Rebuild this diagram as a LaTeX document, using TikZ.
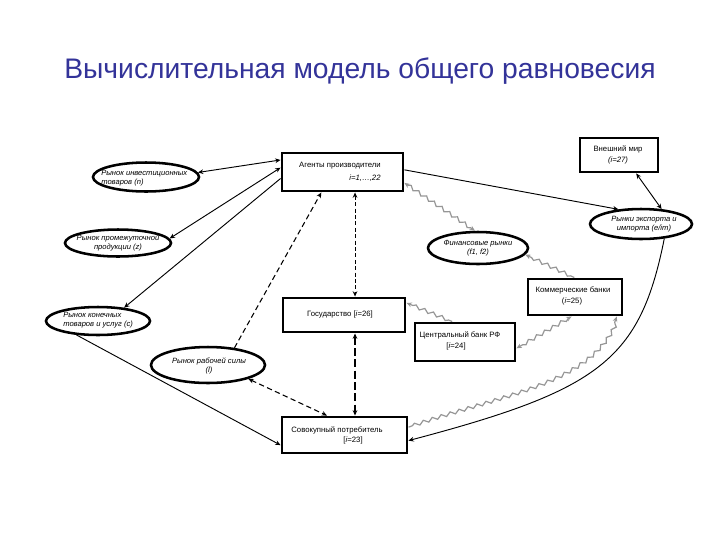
\documentclass[tikz,border=0pt]{standalone}
\usepackage{fontspec}
\setmainfont{Liberation Sans}
\usetikzlibrary{shapes.geometric,arrows.meta,decorations.pathmorphing,calc}
\definecolor{titleblue}{RGB}{51,51,153}
\definecolor{wavegray}{RGB}{150,150,150}
\begin{document}
\begin{tikzpicture}[x=0.75pt,y=-0.75pt,
  >={Stealth[length=4pt,width=3.5pt]},
  box/.style={draw,rectangle,line width=2.2pt,inner sep=0pt},
  ell/.style={draw,ellipse,line width=1.9pt,inner sep=0pt},
  btxt/.style={font=\fontsize{5.8}{6.8}\selectfont,inner sep=0pt},
  bitxt/.style={font=\fontsize{5.8}{6.8}\selectfont\itshape,inner sep=0pt},
  etxt/.style={font=\fontsize{5.7}{6.8}\selectfont\itshape,inner sep=0pt},
  con/.style={line width=0.7pt},
  dsh/.style={line width=0.8pt,dash pattern=on 4pt off 2.5pt},
  dshthin/.style={line width=0.6pt,dash pattern=on 3pt off 1.8pt},
  dshthick/.style={line width=1.3pt,dash pattern=on 6pt off 2.5pt},
  wavy/.style={draw=wavegray,line width=0.9pt,decorate,
     decoration={snake,amplitude=1.3pt,segment length=7pt,pre length=3pt,post length=3pt}}
]
\useasboundingbox (0,0) rectangle (720,540);

\node[font=\fontsize{21.2}{25}\selectfont,text=titleblue,inner sep=0pt] (title) at (360,71)
  {Вычислительная модель общего равновесия};

% boxes
\node[box,minimum width=90.75pt,minimum height=28.5pt] (agents) at (342.5,172) {};
\node[box,minimum width=91.5pt,minimum height=25.5pt] (gov) at (344,315) {};
\node[box,minimum width=75pt,minimum height=28.5pt] (cb) at (465,342) {};
\node[box,minimum width=93.75pt,minimum height=27pt] (cons) at (344.5,435) {};
\node[box,minimum width=70.5pt,minimum height=27pt] (kb) at (575,297) {};
\node[box,minimum width=58.5pt,minimum height=25.5pt] (world) at (619,155) {};

\node[btxt] (tagents) at (340,166) {Агенты производители};
\node[bitxt] (tagents2) at (365,178) {i=1,…,22};
\node[btxt] (tgov) at (340,314) {Государство [\textit{i}=26]};
\node[btxt] (tcb) at (460,335) {Центральный банк РФ};
\node[btxt] (tcb2) at (456,346) {[\textit{i}=24]};
\node[btxt] (tcons) at (337,430) {Совокупный потребитель};
\node[btxt] (tcons2) at (353,440) {[\textit{i}=23]};
\node[btxt] (tkb) at (573,290) {Коммерческие банки};
\node[btxt] (tkb2) at (572,301) {(\textit{i}=25)};
\node[btxt] (tworld) at (618,149) {Внешний мир};
\node[bitxt] (tworld2) at (618,160) {(i=27)};

% ellipses
\node[ell,minimum width=79.5pt,minimum height=21.75pt] (e1) at (146,177) {};
\node[ell,minimum width=79.5pt,minimum height=20.25pt] (e2) at (118,243) {};
\node[ell,minimum width=78pt,minimum height=21pt] (e3) at (98,321) {};
\node[ell,minimum width=85.5pt,minimum height=27pt] (e4) at (208,365) {};
\node[ell,minimum width=75pt,minimum height=24pt] (e5) at (478,248) {};
\node[ell,minimum width=76.5pt,minimum height=22.5pt] (e6) at (641,224) {};

\node[etxt,anchor=west,align=left] (te1) at (101,178) {Рынок инвестиционных\\товаров (n)};
\node[etxt,align=center] (te2) at (118,243) {Рынок промежуточной\\продукции (z)};
\node[etxt,anchor=west,align=left] (te3) at (63,320) {Рынок конечных\\товаров и услуг (c)};
\node[etxt,align=center] (te4) at (209,366) {Рынок рабочей силы\\(l)};
\node[etxt,align=center] (te5) at (478,248) {Финансовые рынки\\(f1, f2)};
\node[etxt,align=center] (te6) at (644,224) {Рынки экспорта и\\импорта (e/im)};

% solid connectors
\draw[con,<->] (e1.5) -- (agents.169);
\draw[con,<->] (e2.5) -- (agents.176);
\draw[con,->] (agents.186) -- (e3.27);
\draw[con,->] (e3.213) -- (cons.189);
\draw[con,->] (agents.2) -- (e6.147);
\draw[con,<->] (world.-47) -- (e6.36);
\draw[con,->] (e6.-32) .. controls (640,360) and (600,390) .. (cons.-5);

% dashed connectors
\draw[dsh,->] (e4.33) -- (agents.224);
\draw[dshthin,<->] ([xshift=9.4pt]agents.south) -- ([xshift=9.4pt]agents.south |- gov.north);
\draw[dshthick,<->] ([xshift=8.25pt]gov.south) -- ([xshift=8.25pt]gov.south |- cons.north);
\draw[dsh,<->] (e4.341) -- (cons.132);

% wavy gray connectors
\draw[wavy,<->] (agents.-10) -- (e5.100);
\draw[wavy,->] (kb.92) -- (e5.-8);
\draw[wavy,->] (cb.122) -- (gov.11);
\draw[wavy,<->] (kb.260) -- (cb.-7);
\draw[wavy,->] (cons.7) .. controls (500,395) and (595,385) .. (kb.-25);
\end{tikzpicture}
\end{document}
